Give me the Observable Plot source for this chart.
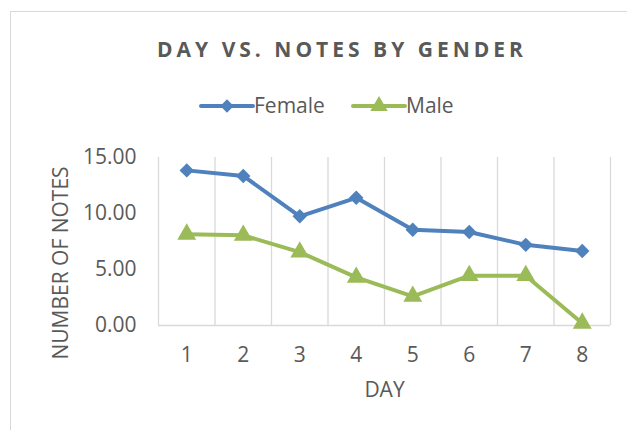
<!DOCTYPE html>
<html>
<head>
<meta charset="utf-8">
<script src="https://cdn.jsdelivr.net/npm/d3@7"></script>
<script src="https://cdn.jsdelivr.net/npm/@observablehq/plot@0.6"></script>
<style>
  html, body { margin: 0; padding: 0; background: #fff; }
  #wrap { position: relative; width: 627px; height: 430px; overflow: hidden; font-family: "Open Sans", sans-serif; color: #595959; }
  #frame { position: absolute; left: 10px; top: 11px; width: 700px; height: 500px; border: 1.5px solid #d9d9d9; box-sizing: border-box; }
  #title { position: absolute; left: 0; width: 684px; top: 34px; text-align: center; font-weight: 700; font-size: 21px; letter-spacing: 4px; line-height: 30px; white-space: nowrap; }
  #legend { position: absolute; top: 92px; height: 28px; font-size: 21px; line-height: 28px; white-space: nowrap; }
  .item { position: absolute; top: 0; }
  .item svg { position: absolute; left: 0; top: 0; }
  .item span { position: absolute; top: -1px; }
  #ylabel { position: absolute; left: 60px; top: 263px; font-size: 21px; line-height: 24px; white-space: nowrap; transform: translate(-50%, -50%) rotate(-90deg); }
  #chart { position: absolute; left: 0; top: 0; }
</style>
</head>
<body>
<div id="wrap">
  <div id="frame"></div>
  <div id="title"></div>
  <div id="legend"></div>
  <div id="ylabel"></div>
  <div id="chart"></div>
</div>
<script>
const title = "DAY VS. NOTES BY GENDER";
const days = [1, 2, 3, 4, 5, 6, 7, 8];
const female = [13.85, 13.35, 9.75, 11.4, 8.55, 8.35, 7.2, 6.65];
const male = [8.15, 8.05, 6.55, 4.3, 2.6, 4.45, 4.45, 0.2];
const seriesNames = ["Female", "Male"];
const yTicks = [0, 5, 10, 15];
const xLabel = "DAY";
const yLabel = "NUMBER OF NOTES";
const colors = {Female: "#4f81bd", Male: "#9bbb59"};

document.getElementById("title").textContent = title;
document.getElementById("ylabel").textContent = yLabel;

const femaleRows = days.map((d, i) => ({day: d, value: female[i], series: "Female"}));
const maleRows = days.map((d, i) => ({day: d, value: male[i], series: "Male"}));
const bounds = d3.range(0.5, days.length + 1, 1);

const plot = Plot.plot({
  width: 627,
  height: 430,
  marginLeft: 158,
  marginRight: 17,
  marginTop: 157,
  marginBottom: 105,
  style: {fontFamily: "Open Sans, sans-serif", fontSize: "21px", color: "#595959", background: "transparent", overflow: "visible"},
  x: {domain: [0.5, days.length + 0.5], axis: null},
  y: {domain: [0, 15], axis: null},
  marks: [
    Plot.ruleX(bounds, {y1: 0, y2: 15, stroke: "#d9d9d9", strokeWidth: 1.3}),
    Plot.ruleY([0], {x1: 0.5, x2: days.length + 0.5, stroke: "#d9d9d9", strokeWidth: 1.3}),
    Plot.axisY({ticks: yTicks, tickFormat: d => d.toFixed(2), tickSize: 0, tickPadding: 22, fontSize: 21, label: null}),
    Plot.axisX({ticks: days, tickFormat: d => String(d), tickSize: 0, tickPadding: 22, fontSize: 21, label: null}),
    Plot.line(femaleRows, {x: "day", y: "value", stroke: colors.Female, strokeWidth: 4, strokeLinejoin: "round", strokeLinecap: "round"}),
    Plot.line(maleRows, {x: "day", y: "value", stroke: colors.Male, strokeWidth: 4, strokeLinejoin: "round", strokeLinecap: "round"}),
    Plot.dot(femaleRows, {x: "day", y: "value", symbol: "diamond2", fill: colors.Female, stroke: "none", r: 6.5}),
    Plot.dot(maleRows, {x: "day", y: "value", symbol: "triangle", fill: colors.Male, stroke: "none", r: 7}),
    Plot.text([xLabel], {frameAnchor: "bottom", dy: 65, lineAnchor: "middle", fontSize: 21, fill: "#595959"})
  ]
});
document.getElementById("chart").appendChild(plot);

// legend
const legend = document.getElementById("legend");
const legendPos = {Female: 199, Male: 351};
seriesNames.forEach(name => {
  const item = document.createElement("div");
  item.className = "item";
  item.style.left = legendPos[name] + "px";
  const svg = d3.create("svg").attr("width", 56).attr("height", 28);
  svg.append("line").attr("x1", 2).attr("x2", 54).attr("y1", 14).attr("y2", 14)
    .attr("stroke", colors[name]).attr("stroke-width", 4).attr("stroke-linecap", "round");
  const sym = name === "Female" ? d3.symbolDiamond2 : d3.symbolTriangle;
  const size = name === "Female" ? Math.PI * 36 : Math.PI * 42;
  svg.append("path").attr("d", d3.symbol(sym, size)()).attr("transform", "translate(28,14)").attr("fill", colors[name]);
  item.appendChild(svg.node());
  const span = document.createElement("span");
  span.textContent = name;
  span.style.left = "55px";
  item.appendChild(span);
  legend.appendChild(item);
});
</script>
</body>
</html>
